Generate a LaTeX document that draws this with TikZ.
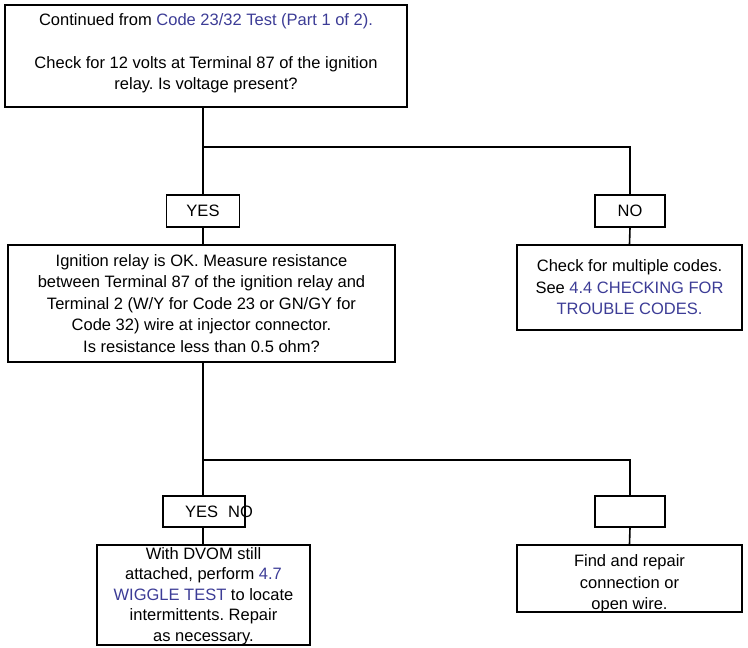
\documentclass[tikz,border=0pt]{standalone}
\usepackage{fontspec}
\setmainfont{Liberation Sans}
\definecolor{lnk}{RGB}{60,60,150}
\begin{document}
\frenchspacing
\begin{tikzpicture}[x=1pt,y=-1pt,
 box/.style={draw,line width=1.6pt,inner sep=0pt},
 txt/.style={align=center,font=\fontsize{16.5}{21.5}\selectfont},
 ln/.style={line width=1.6pt}]
\useasboundingbox (0,0) rectangle (748,648);
\node[box,minimum width=402,minimum height=102] (top) at (206,56) {};
\node[txt] at (206,53) {Continued from \textcolor{lnk}{Code 23/32 Test (Part 1 of 2).}\\[21.5pt]Check for 12 volts at Terminal 87 of the ignition\\relay. Is voltage present?};
\node[box,minimum width=73,minimum height=32] (y1) at (203,211) {};
\node[txt] at (y1) {YES};
\node[box,minimum width=70,minimum height=32] (n1) at (630,211) {};
\node[txt] at (n1) {NO};
\node[box,minimum width=387,minimum height=117] (mid) at (201.5,303.5) {};
\node[txt] at (mid) {Ignition relay is OK. Measure resistance\\between Terminal 87 of the ignition relay and\\Terminal 2 (W/Y for Code 23 or GN/GY for\\Code 32) wire at injector connector.\\Is resistance less than 0.5 ohm?};
\node[box,minimum width=225,minimum height=85] (rt) at (629.5,287.5) {};
\node[txt] at (rt) {Check for multiple codes.\\See \textcolor{lnk}{4.4 CHECKING FOR}\\\textcolor{lnk}{TROUBLE CODES.}};
\node[box,minimum width=82,minimum height=31] (y2) at (204,511.5) {};
\node[txt,anchor=west,inner sep=0pt] at (185,511.5) {YES\hspace{10pt}NO};
\node[box,minimum width=70,minimum height=31] (n2) at (630,511.5) {};
\node[box,minimum width=213,minimum height=100] (bl) at (203.5,595) {};
\node[txt,font=\fontsize{16.5}{20.5}\selectfont] at (203.5,596) {With DVOM still\\attached, perform \textcolor{lnk}{4.7}\\\textcolor{lnk}{WIGGLE TEST} to locate\\intermittents. Repair\\as necessary.};
\node[box,minimum width=225,minimum height=67] (br) at (629.5,578.5) {};
\node[txt] at (629.5,584) {Find and repair\\connection or\\open wire.};
\coordinate (j1) at (203,147);
\coordinate (j2) at (630,147);
\coordinate (j3) at (203,460);
\coordinate (j4) at (630,460);
\draw[ln] (203,107) -- (j1) -- (y1.north);
\draw[ln] (j1) -- (j2) -- (n1.north);
\draw[ln] (y1.south) -- (203,245);
\draw[ln] (n1.south) -- (rt.north);
\draw[ln] (203,362) -- (j3) -- (203,496);
\draw[ln] (j3) -- (j4) -- (n2.north);
\draw[ln] (203,527) -- (203,545);
\draw[ln] (n2.south) -- (br.north);
\end{tikzpicture}
\end{document}
